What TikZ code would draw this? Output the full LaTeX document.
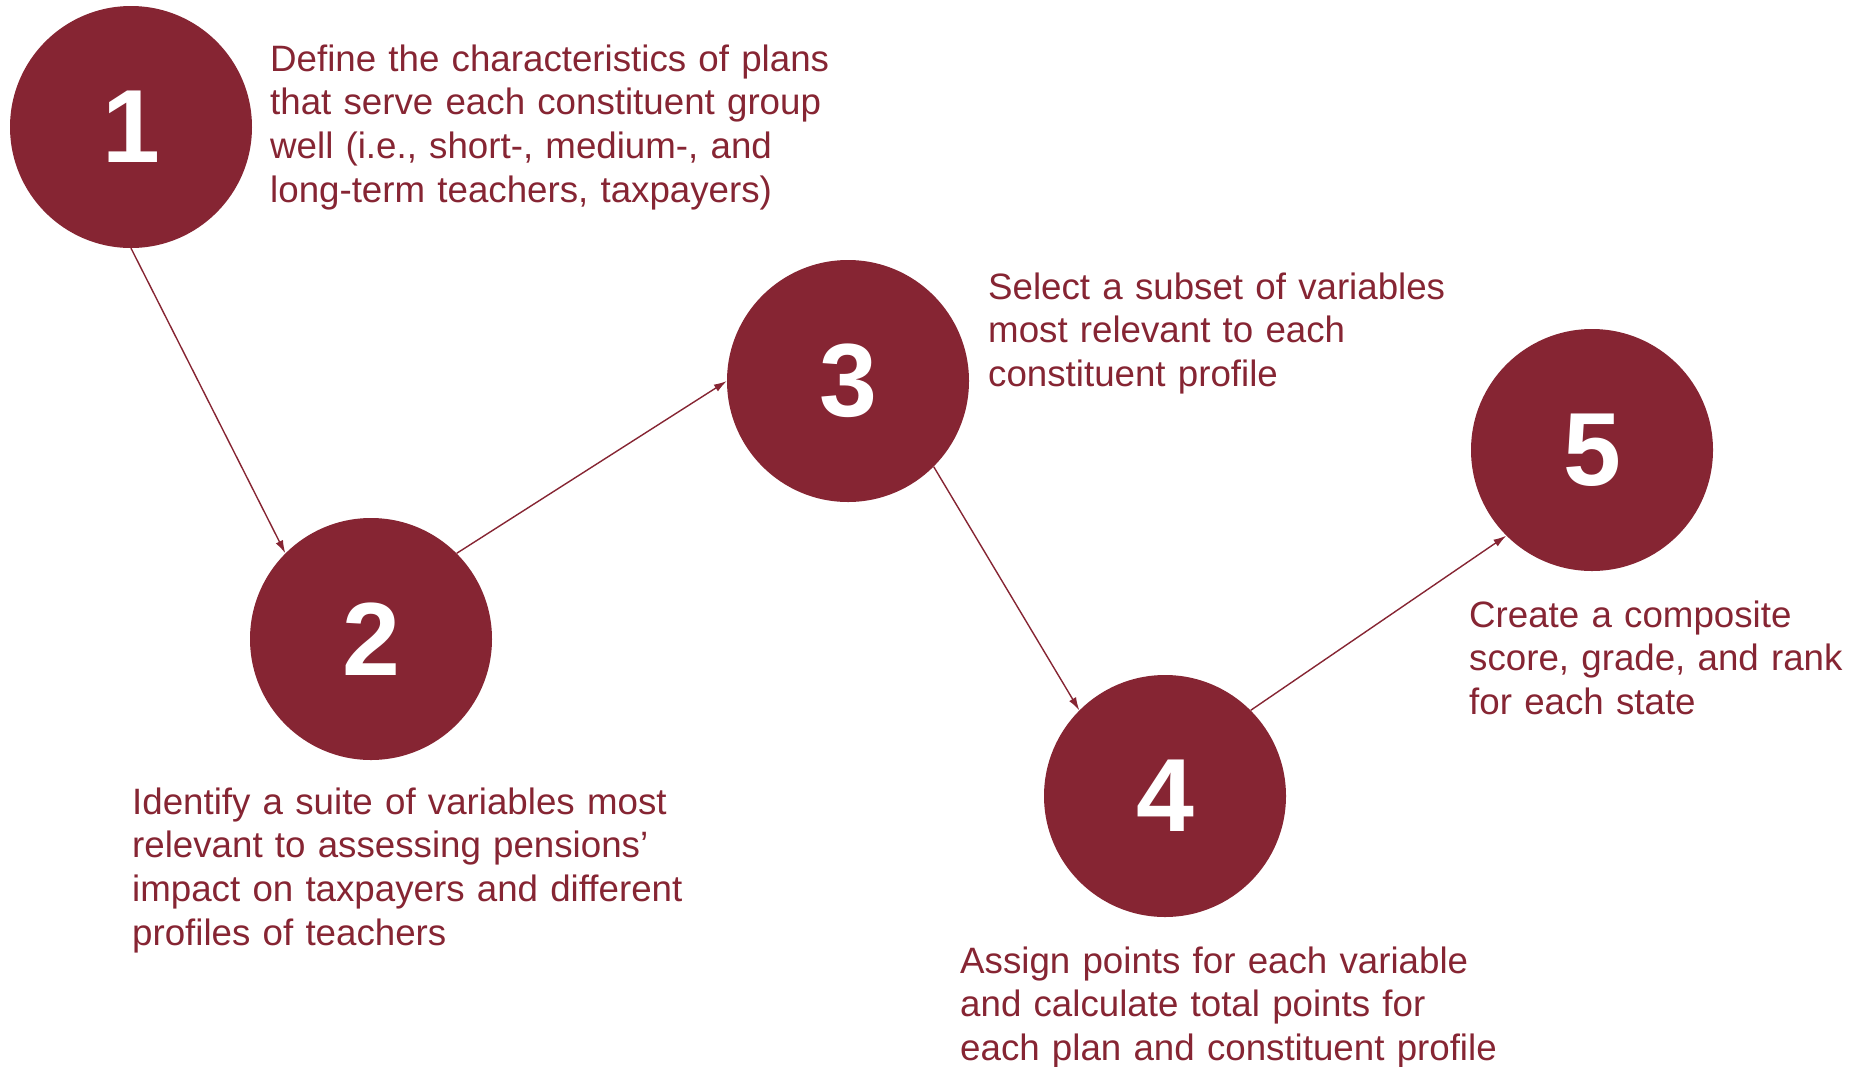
\documentclass[tikz,border=0pt]{standalone}
\usepackage{fontspec}
\setmainfont{Liberation Sans}
\usetikzlibrary{arrows.meta}
\definecolor{maroon}{RGB}{134,37,51}
\begin{document}
\begin{tikzpicture}[x=1pt,y=-1pt,
  stepcircle/.style={circle,fill=maroon,inner sep=0pt,minimum size=242pt,text=white,
    font=\fontsize{104}{104}\selectfont\bfseries},
  desc/.style={anchor=base west,inner sep=0pt,text=maroon,align=left,text width=620pt,
    font=\fontsize{36.7}{43.8}\selectfont},
  conn/.style={draw=maroon,line width=1.4pt,-{Latex[length=13pt,width=8pt]}}]
\useasboundingbox (0,0) rectangle (1855,1066);
\node[stepcircle] (c1) at (131,127) {1};
\node[stepcircle] (c2) at (371,639) {2};
\node[stepcircle] (c3) at (848,381) {3};
\node[stepcircle] (c4) at (1165,796) {4};
\node[stepcircle] (c5) at (1592,450) {5};
\node[desc] (t1) at (270,71) {Define the characteristics of plans\\that serve each constituent group\\well (i.e., short-, medium-, and\\long-term teachers, taxpayers)};
\node[desc] (t2) at (132,814) {Identify a suite of variables most\\relevant to assessing pensions’\\impact on taxpayers and different\\profiles of teachers};
\node[desc] (t3) at (988,299) {Select a subset of variables\\most relevant to each\\constituent profile};
\node[desc] (t4) at (960,973) {Assign points for each variable\\and calculate total points for\\each plan and constituent profile};
\node[desc,text width=390pt] (t5) at (1469,627) {Create a composite\\score, grade, and rank\\for each state};
\draw[conn] (c1.-90) -- (c2.135);
\draw[conn] (c2.45) -- (c3.180);
\draw[conn] (c3.-45) -- (c4.135);
\draw[conn] (c4.45) -- (c5.225);
\end{tikzpicture}
\end{document}
